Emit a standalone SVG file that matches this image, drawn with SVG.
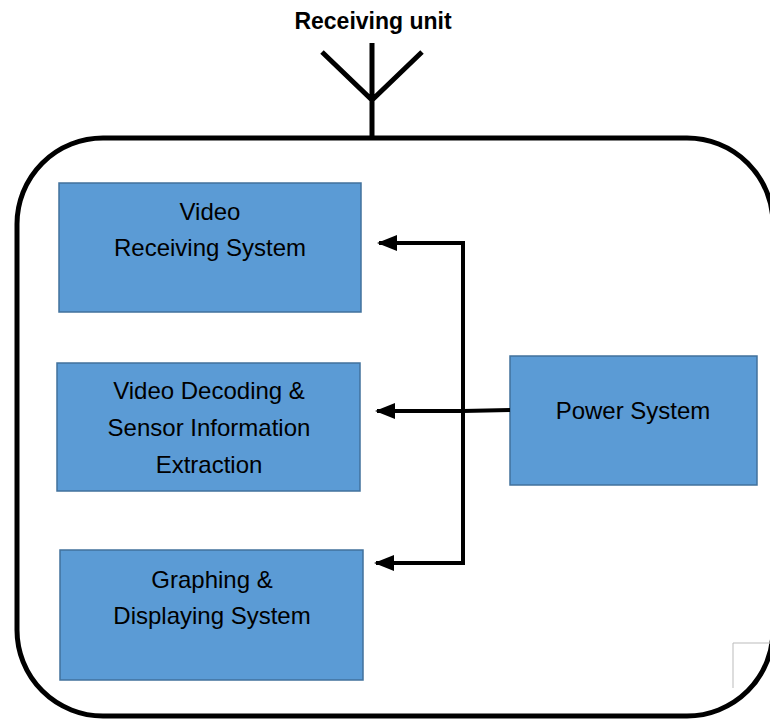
<svg xmlns="http://www.w3.org/2000/svg" width="770" height="719" viewBox="0 0 770 719">
<defs>
<style>
.box{fill:#5B9BD5;stroke:#41719C;stroke-width:1.5}
.t{font-family:"Liberation Sans",Arial,sans-serif;font-size:24px;fill:#000;text-anchor:middle}
.ln{fill:none;stroke:#000;stroke-width:4}
</style>
<marker id="ah" markerWidth="5" markerHeight="4" refX="4.5" refY="2" orient="auto" markerUnits="strokeWidth">
<path d="M0,0 L5,2 L0,4 Z" fill="#000"/>
</marker>
</defs>
<rect width="770" height="719" fill="#fff"/>
<g id="unit">
<rect x="17" y="138" width="756" height="578" rx="86" ry="86" fill="none" stroke="#000" stroke-width="5"/>
<path d="M372,43 V138 M322,52 L372,100 L422,52" fill="none" stroke="#000" stroke-width="5"/>
<text x="373" y="29" class="t" style="font-weight:bold;font-size:23px">Receiving unit</text>
<path d="M733,688 V643 H770" fill="none" stroke="#bbb" stroke-width="1"/>
</g>
<g id="video-receiving">
<rect class="box" x="59" y="183" width="302" height="129"/>
<text class="t" x="210" y="220">Video</text>
<text class="t" x="210" y="256">Receiving System</text>
</g>
<g id="video-decoding">
<rect class="box" x="57" y="363" width="303" height="128"/>
<text class="t" x="209" y="399">Video Decoding &amp;</text>
<text class="t" x="209" y="436">Sensor Information</text>
<text class="t" x="209" y="473">Extraction</text>
</g>
<g id="graphing">
<rect class="box" x="60" y="550" width="303" height="130"/>
<text class="t" x="212" y="588">Graphing &amp;</text>
<text class="t" x="212" y="624">Displaying System</text>
</g>
<g id="power">
<rect class="box" x="510" y="356" width="247" height="129"/>
<text class="t" x="633" y="419">Power System</text>
</g>
<g id="connectors">
<path class="ln" d="M463,565 V243 H379" marker-end="url(#ah)"/>
<path class="ln" d="M510,410 L463,411 H377" marker-end="url(#ah)"/>
<path class="ln" d="M463,563 H376" marker-end="url(#ah)"/>
</g>
</svg>
